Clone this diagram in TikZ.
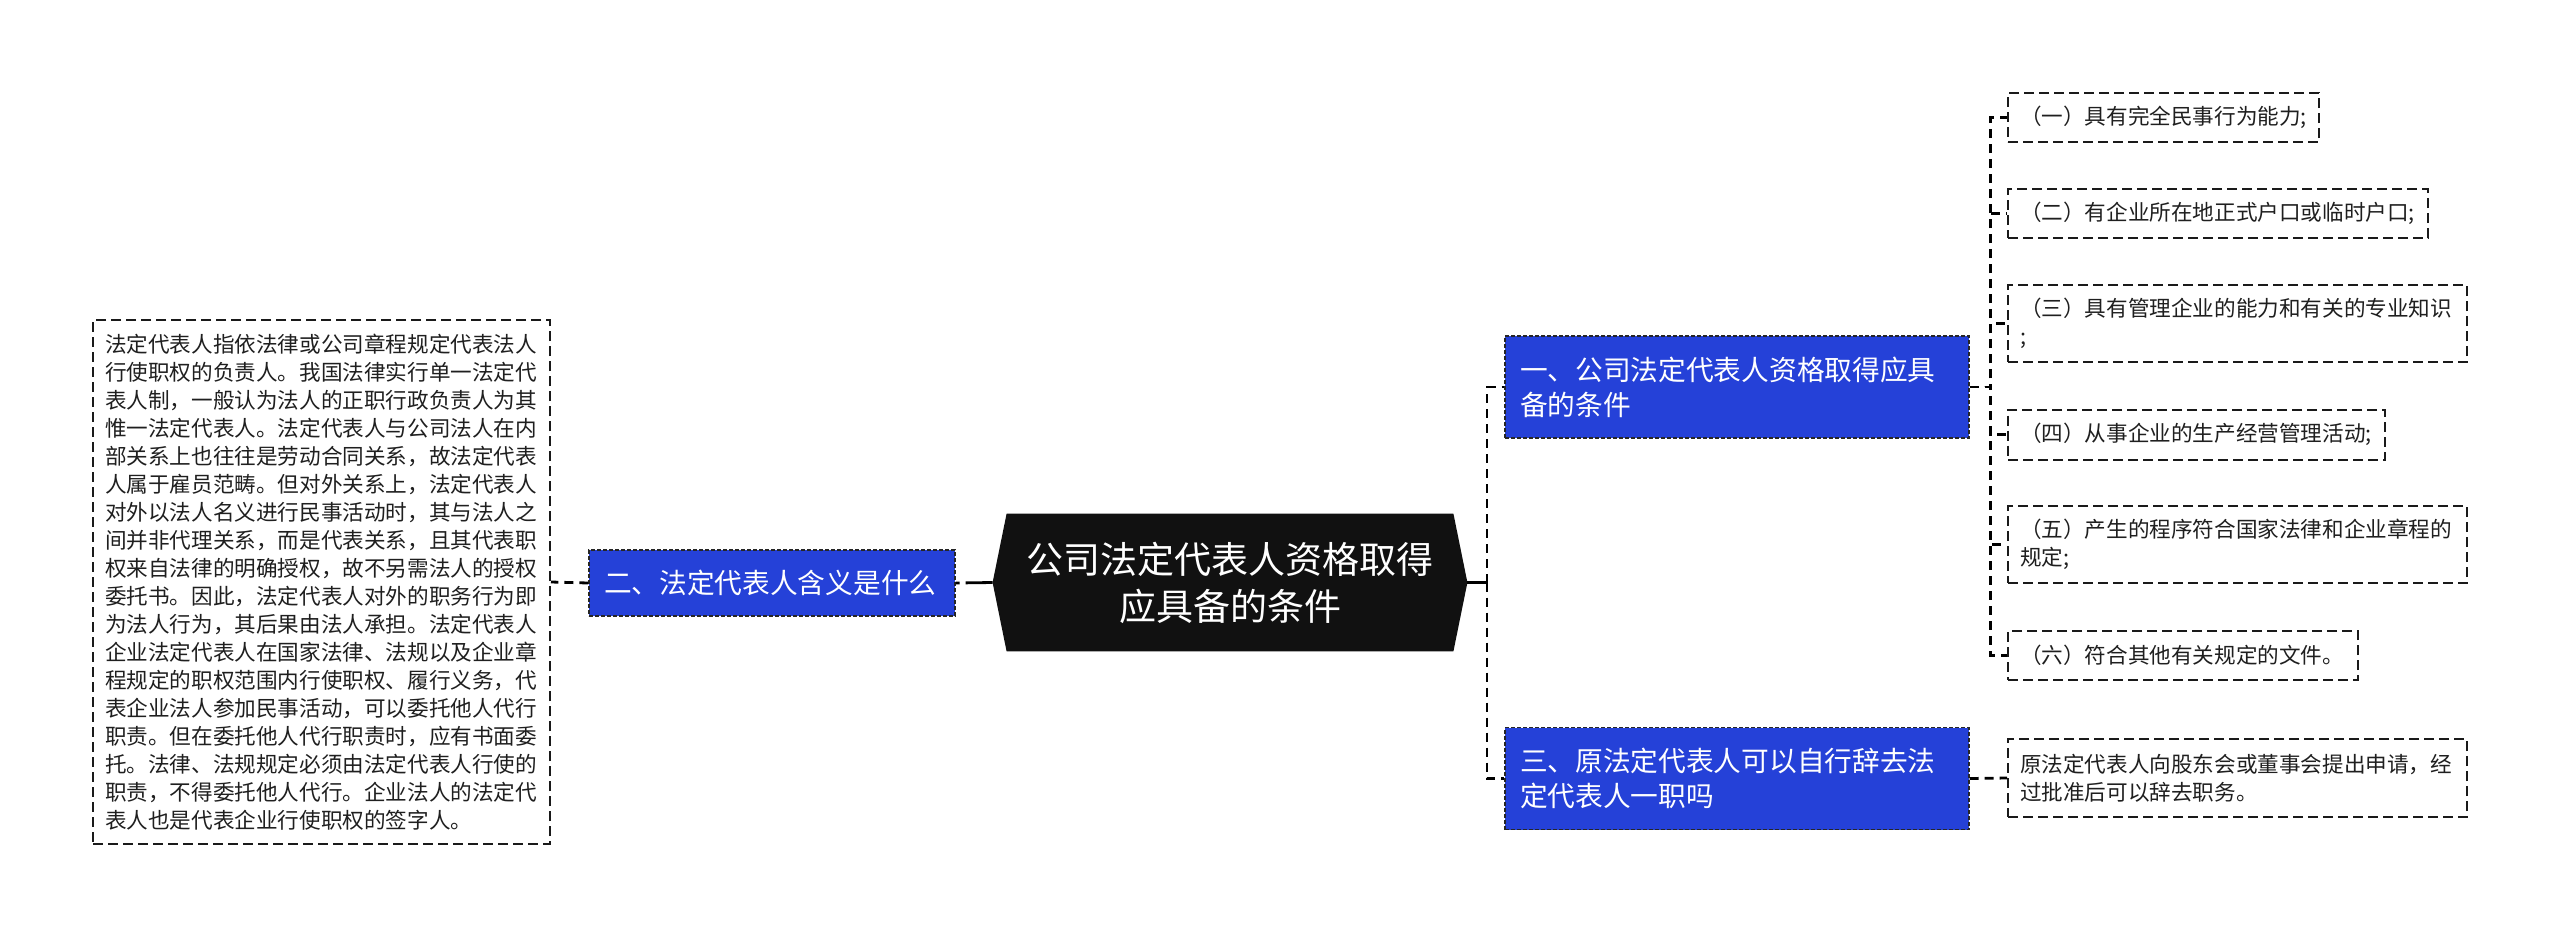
\documentclass[tikz,border=0pt]{standalone}
\usepackage{fontspec}
\setmainfont{Noto Sans CJK SC}
\usetikzlibrary{backgrounds}
\definecolor{nodeblue}{HTML}{2541D8}
\definecolor{rootblack}{HTML}{111111}
\definecolor{linegray}{HTML}{1A1A1A}
\tikzset{
  leaf/.style={draw=linegray, line width=1pt, dash pattern=on 5pt off 2.5pt,
    rectangle, inner xsep=6pt, inner ysep=2pt, align=left, text=black!88,
    font=\fontsize{10.8pt}{14pt}\selectfont},
  bluebox/.style={draw=black!85, line width=0.6pt, dash pattern=on 2pt off 1pt,
    fill=nodeblue, text=white, rectangle, inner xsep=7.5pt, inner ysep=2pt, align=left,
    font=\fontsize{13.85pt}{17.5pt}\selectfont},
  rootbox/.style={rectangle, text=white, align=center, inner sep=0pt,
    minimum width=237pt, minimum height=68.5pt,
    font=\fontsize{18.5pt}{23.5pt}\selectfont},
  link/.style={draw=black, line width=1.4pt, dash pattern=on 4.5pt off 3pt},
  solidlink/.style={draw=black, line width=1.4pt},
}
\begin{document}
\begin{tikzpicture}[x=0.5pt,y=-0.5pt]
\useasboundingbox (0,0) rectangle (2560,938);
% root
\node[rootbox] (root) at (1230,582.5) {公司法定代表人资格取得\\应具备的条件};
\begin{scope}[on background layer]
  \fill[white] (0,0) rectangle (2560,938);
  \fill[rootblack] ([xshift=7pt]root.north west) -- ([xshift=-7pt]root.north east) -- (root.east)
    -- ([xshift=-7pt]root.south east) -- ([xshift=7pt]root.south west) -- (root.west) -- cycle;
\end{scope}
% first-level nodes
\node[bluebox, text width=217pt, minimum height=51pt] (b1) at (1737,387)
  {一、公司法定代表人资格取得应具\\备的条件};
\node[bluebox, text width=217pt, minimum height=51pt] (b3) at (1737,778.5)
  {三、原法定代表人可以自行辞去法\\定代表人一职吗};
\node[bluebox, text width=168pt, minimum height=33pt] (b2) at (772,583)
  {二、法定代表人含义是什么};
% left text
\node[leaf, text width=216.5pt, minimum height=262pt] (lt) at (321.5,582)
  {法定代表人指依法律或公司章程规定代表法人\\
行使职权的负责人。我国法律实行单一法定代\\
表人制，一般认为法人的正职行政负责人为其\\
惟一法定代表人。法定代表人与公司法人在内\\
部关系上也往往是劳动合同关系，故法定代表\\
人属于雇员范畴。但对外关系上，法定代表人\\
对外以法人名义进行民事活动时，其与法人之\\
间并非代理关系，而是代表关系，且其代表职\\
权来自法律的明确授权，故不另需法人的授权\\
委托书。因此，法定代表人对外的职务行为即\\
为法人行为，其后果由法人承担。法定代表人\\
企业法定代表人在国家法律、法规以及企业章\\
程规定的职权范围内行使职权、履行义务，代\\
表企业法人参加民事活动，可以委托他人代行\\
职责。但在委托他人代行职责时，应有书面委\\
托。法律、法规规定必须由法定代表人行使的\\
职责，不得委托他人代行。企业法人的法定代\\
表人也是代表企业行使职权的签字人。};
% right leaves
\node[leaf, text width=143.5pt, minimum height=24.5pt] (l1) at (2163.5,117.5) {（一）具有完全民事行为能力;};
\node[leaf, text width=198pt, minimum height=24.5pt] (l2) at (2218,213.5) {（二）有企业所在地正式户口或临时户口;};
\node[leaf, text width=217.5pt, minimum height=38.5pt] (l3) at (2237.5,323.5) {（三）具有管理企业的能力和有关的专业知识\\;};
\node[leaf, text width=176.5pt, minimum height=25pt] (l4) at (2196.5,434.5) {（四）从事企业的生产经营管理活动;};
\node[leaf, text width=217.5pt, minimum height=38.5pt] (l5) at (2237.5,544.5) {（五）产生的程序符合国家法律和企业章程的\\规定;};
\node[leaf, text width=163pt, minimum height=24.5pt] (l6) at (2183,655.5) {（六）符合其他有关规定的文件。};
\node[leaf, text width=217.5pt, minimum height=39pt] (l7) at (2237.5,778) {原法定代表人向股东会或董事会提出申请，经\\过批准后可以辞去职务。};
% connectors
\coordinate (rt) at (1487,582.5);
\draw[solidlink] (root.east) -- (rt);
\draw[link] (rt) |- (b1.west);
\draw[link] (rt) |- (b3.west);
\draw[link, dash pattern=on 13.5pt off 3pt on 3pt off 10pt] (root.west) -- (b2.east);
\draw[link] (b2.west) -- (lt.east);
\foreach \n in {l1,l2,l3,l4,l5,l6}
  \draw[link] (b1.east) -- ++(10.5pt,0) |- (\n.west);
\draw[link] (b3.east) -- (l7.west);
\end{tikzpicture}
\end{document}
